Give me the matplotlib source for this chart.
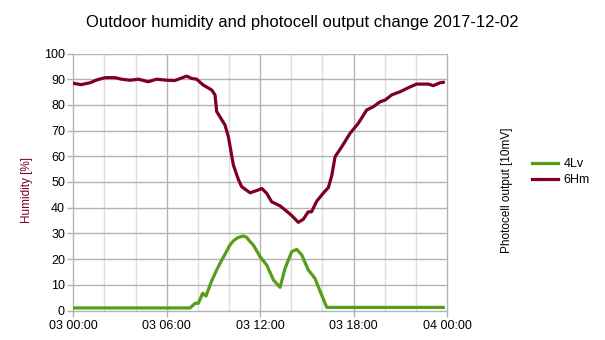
import matplotlib
matplotlib.use("Agg")
import matplotlib.pyplot as plt

plt.rcParams['font.family'] = ['Liberation Sans', 'DejaVu Sans']

title = "Outdoor humidity and photocell output change 2017-12-02"

hum_t = [0.0, 0.5, 1.07, 1.5, 2.04, 2.68, 3.1, 3.64, 4.18, 4.82, 5.35, 6.0, 6.53,
         7.28, 7.6, 7.92, 8.35, 8.89, 9.1, 9.21, 9.74, 9.96, 10.28, 10.6, 10.81,
         11.35, 11.88, 12.1, 12.42, 12.74, 13.28, 13.81, 14.1, 14.45, 14.77, 15.09,
         15.3, 15.63, 16.1, 16.38, 16.6, 16.81, 17.24, 17.77, 18.3, 18.84, 19.27,
         19.7, 20.03, 20.45, 20.98, 21.52, 22.05, 22.8, 23.12, 23.55, 23.76]
hum_v = [88.4, 87.9, 88.6, 89.7, 90.6, 90.6, 90.0, 89.6, 90.0, 89.0, 90.0, 89.6, 89.5,
         91.2, 90.3, 90.0, 87.7, 85.8, 83.9, 77.4, 72.2, 67.6, 56.6, 51.0, 48.2,
         45.8, 46.9, 47.5, 45.6, 42.3, 40.7, 38.1, 36.5, 34.3, 35.5, 38.4,
         38.4, 42.5, 46.0, 47.8, 52.5, 59.8, 63.7, 68.9, 72.8, 78.0, 79.3,
         81.2, 81.9, 83.9, 85.1, 86.7, 88.1, 88.1, 87.5, 88.6, 88.8]

pc_t = [0.0, 7.5, 7.82, 8.03, 8.31, 8.52, 8.85, 9.21, 9.53, 9.8, 10.06, 10.3, 10.55,
        10.9, 11.13, 11.35, 11.56, 12.0, 12.42, 12.85, 13.28, 13.6, 14.03, 14.35,
        14.67, 15.09, 15.52, 15.95, 16.28, 23.76]
pc_v = [1.0, 1.0, 2.8, 2.8, 6.7, 5.6, 11.0, 15.8, 19.6, 22.5, 25.5, 27.2, 28.3,
        29.0, 28.5, 26.8, 25.5, 20.9, 17.7, 11.9, 9.0, 16.4, 22.9, 23.8,
        21.6, 15.8, 12.5, 6.0, 1.2, 1.2]

x_ticks = [0, 6, 12, 18, 24]
x_labels = ["03 00:00", "03 06:00", "03 12:00", "03 18:00", "04 00:00"]
y_ticks = list(range(0, 101, 10))

green = "#579d1c"
red = "#7e0021"
grid_major = "#b3b3b3"
grid_minor = "#dddddd"

fig = plt.figure(figsize=(6.05, 3.4), dpi=100)
ax = fig.add_axes([73.3/605, 1-310.5/340, (447-73.3)/605, (310.5-53.5)/340])

ax.set_xlim(0, 24)
ax.set_ylim(0, 100)
ax.set_xticks(x_ticks)
ax.set_xticklabels(x_labels)
ax.set_xticks(range(0, 25, 2), minor=True)
ax.set_yticks(y_ticks)

for x in range(0, 25, 2):
    if x % 6 != 0:
        ax.axvline(x, color=grid_minor, lw=1.0, zorder=0)
for x in x_ticks[1:-1]:
    ax.axvline(x, color=grid_major, lw=1.0, zorder=0)
for y in y_ticks[1:]:
    ax.axhline(y, color=grid_major, lw=1.0, zorder=0)

l1, = ax.plot(pc_t, pc_v, color=green, lw=2.3, label="4Lv", zorder=3, solid_joinstyle='round')
l2, = ax.plot(hum_t, hum_v, color=red, lw=2.3, label="6Hm", zorder=3, solid_joinstyle='round')

ax.spines["top"].set_visible(False)
for s in ["left", "right", "bottom"]:
    ax.spines[s].set_color(grid_major)
    ax.spines[s].set_linewidth(1.0)

ax.tick_params(axis='both', which='major', color=grid_major, length=4, width=1,
               labelsize=9, pad=2, labelcolor="black")
ax.tick_params(axis='x', which='minor', length=0)
ax.tick_params(axis='x', which='major', pad=3)
ax.tick_params(axis='y', right=True, labelright=True)

ax.set_ylabel("Humidity [%]", color=red, fontsize=8.5)
ax.yaxis.label.set_va('center')
ax.yaxis.set_label_coords((27-73.3)/373.7, (310.5-190)/257)

ax2 = ax.twinx()
ax2.set_ylim(0, 100)
ax2.set_yticks([])
for s in ax2.spines.values():
    s.set_visible(False)
ax2.set_ylabel("Photocell output [10mV]", fontsize=8.5, color="black")
ax2.yaxis.label.set_va('center')
ax2.yaxis.set_label_coords((507-73.3)/373.7, (310.5-190)/257)

fig.text(0.5, 1-22/340, title, fontsize=12, ha='center', va='center')

fig.legend(handles=[l1, l2], loc="upper left", bbox_to_anchor=(527/605, 1-153/340),
           frameon=False, fontsize=9, handlelength=2.1, handletextpad=0.4,
           labelspacing=0.35, borderaxespad=0)

fig.savefig("out.png", dpi=100)
